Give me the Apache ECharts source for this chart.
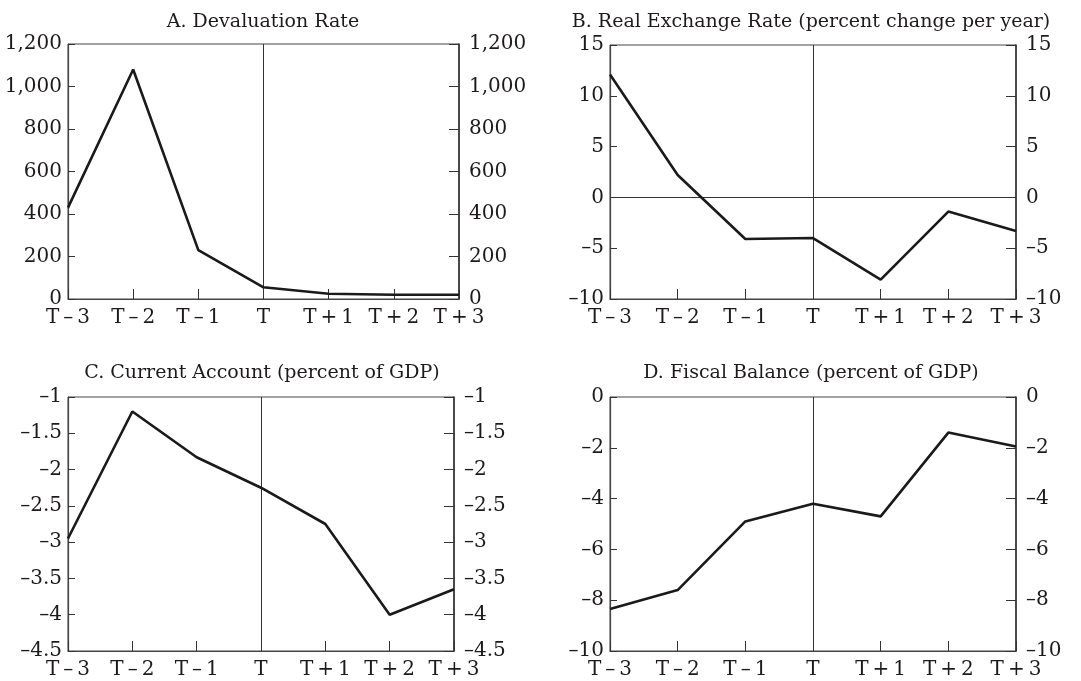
<!DOCTYPE html>
<html>
<head>
<meta charset="utf-8">
<script src="https://cdn.jsdelivr.net/npm/echarts@6/dist/echarts.min.js"></script>
<style>
  html, body { margin: 0; padding: 0; background: #fff; }
  #chart { width: 1081px; height: 681px; }
</style>
</head>
<body>
<div id="chart"></div>
<script>
const categories = ['T\u2009\u2013\u20093', 'T\u2009\u2013\u20092', 'T\u2009\u2013\u20091', 'T', 'T\u2009+\u20091', 'T\u2009+\u20092', 'T\u2009+\u20093'];
const markerCategory = 'T';

const titles = [
  'A. Devaluation Rate',
  'B. Real Exchange Rate (percent change per year)',
  'C. Current Account (percent of GDP)',
  'D. Fiscal Balance (percent of GDP)'
];

const devaluation = [430, 1080, 230, 55, 25, 20, 20];
const realExchange = [12.1, 2.2, -4.1, -4.0, -8.1, -1.4, -3.3];
const currentAccount = [-2.95, -1.2, -1.83, -2.25, -2.75, -4.0, -3.65];
const fiscalBalance = [-8.35, -7.6, -4.9, -4.2, -4.7, -1.4, -1.95];

const axisRanges = [
  { min: 0, max: 1200, interval: 200 },
  { min: -10, max: 15, interval: 5 },
  { min: -4.5, max: -1, interval: 0.5 },
  { min: -10, max: 0, interval: 2 }
];

const seriesData = [devaluation, realExchange, currentAccount, fiscalBalance];

const FONT = 'DejaVu Serif';
const TXT = '#1e1a1b';
const AXC = '#444';

const grids = [
  { left: 68, top: 44, width: 391, height: 255 },
  { left: 610, top: 45, width: 406, height: 254 },
  { left: 68, top: 397, width: 386, height: 254 },
  { left: 610, top: 397, width: 406, height: 254 }
];
const titlePos = [[263, 22], [811, 22], [262, 373], [811, 373]];

function fmt(i) {
  return function (v) {
    let s;
    if (i === 0) s = v.toLocaleString('en-US');
    else s = String(Math.round(v * 100) / 100);
    return s.replace('-', '\u2013');
  };
}

const option = {
  animation: false,
  backgroundColor: '#fff',
  grid: grids.map(g => Object.assign({ show: true, borderColor: AXC, borderWidth: 1, backgroundColor: 'transparent' }, g)),
  xAxis: grids.map((g, i) => ({
    type: 'category',
    gridIndex: i,
    data: categories,
    boundaryGap: false,
    axisLine: { show: true, onZero: false, lineStyle: { color: AXC, width: 1.2 } },
    axisTick: { show: true, inside: true, length: 10, lineStyle: { color: '#333', width: 1 } },
    axisLabel: { color: TXT, fontFamily: FONT, fontSize: 20, margin: 9, interval: 0 },
    splitLine: { show: false }
  })),
  yAxis: [].concat(...grids.map((g, i) => [
    {
      type: 'value', gridIndex: i, position: 'left',
      min: axisRanges[i].min, max: axisRanges[i].max, interval: axisRanges[i].interval,
      axisLine: { show: true, onZero: false, lineStyle: { color: AXC, width: 1.2 } },
      axisTick: { show: true, inside: true, length: 7, lineStyle: { color: '#333' } },
      axisLabel: { color: TXT, fontFamily: FONT, fontSize: 20, margin: 6, formatter: fmt(i) },
      splitLine: { show: false }
    },
    {
      type: 'value', gridIndex: i, position: 'right',
      min: axisRanges[i].min, max: axisRanges[i].max, interval: axisRanges[i].interval,
      axisLine: { show: true, onZero: false, lineStyle: { color: '#333', width: 1.6 } },
      axisTick: { show: true, inside: true, length: 10, lineStyle: { color: '#333' } },
      axisLabel: { color: TXT, fontFamily: FONT, fontSize: 20, margin: 10, formatter: fmt(i) },
      splitLine: { show: false }
    }
  ])),
  graphic: titles.map((t, i) => ({
    type: 'text',
    x: titlePos[i][0], y: titlePos[i][1],
    style: {
      text: t, fill: TXT, font: '19px "' + FONT + '"',
      textAlign: 'center', textVerticalAlign: 'middle'
    }
  })),
  series: seriesData.map((d, i) => ({
    type: 'line',
    xAxisIndex: i,
    yAxisIndex: i * 2,
    data: d,
    symbol: 'none',
    lineStyle: { color: '#1a1a1a', width: 2.6 },
    z: 5,
    markLine: {
      silent: true,
      symbol: 'none',
      label: { show: false },
      lineStyle: { color: '#333', width: 1, type: 'solid' },
      data: i === 1 ? [{ xAxis: markerCategory }, { yAxis: 0 }] : [{ xAxis: markerCategory }]
    }
  }))
};

const chart = echarts.init(document.getElementById('chart'), null, { renderer: 'canvas' });
chart.setOption(option);
</script>
</body>
</html>
